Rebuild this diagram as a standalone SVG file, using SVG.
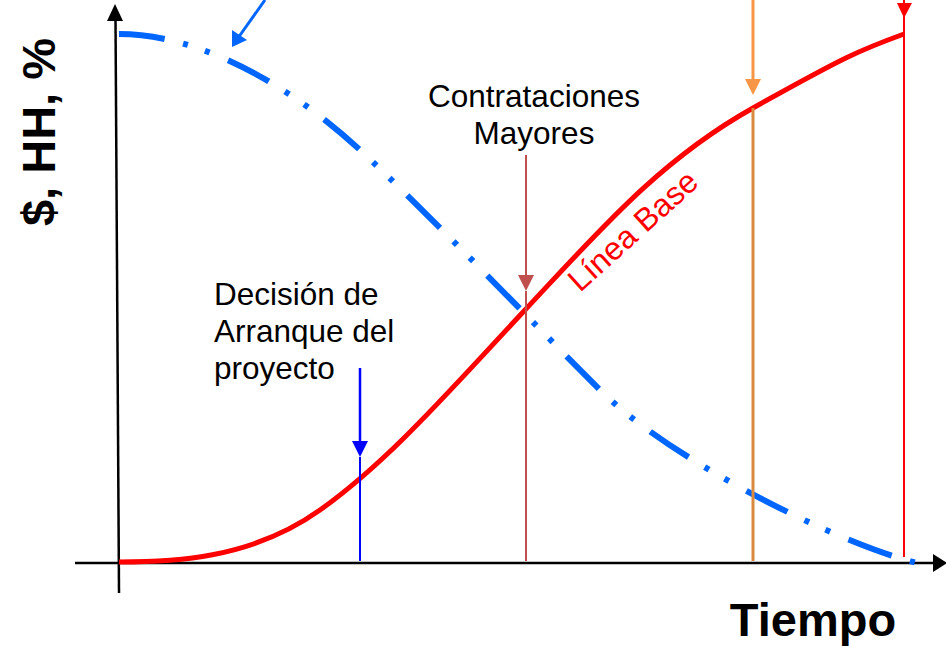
<svg xmlns="http://www.w3.org/2000/svg" width="946" height="646" viewBox="0 0 946 646">
<style>
.lbl{font-family:"Liberation Sans",Arial,sans-serif;font-size:31.5px;fill:#000}
.big{font-family:"Liberation Sans",Arial,sans-serif;font-size:47px;font-weight:bold;fill:#000}
.axis{stroke:#000;stroke-width:2.5;fill:none}
</style>
<rect width="946" height="646" fill="#fff"/>
<g id="axes">
<line class="axis" x1="119" y1="593" x2="115.5" y2="18"/>
<path d="M107,21 L115,4 L123,21 Z" fill="#000"/>
<line class="axis" x1="75" y1="563" x2="936" y2="563"/>
<path d="M933,554 L947,563 L933,572 Z" fill="#000"/>
</g>
<g id="curves">
<path id="plan" d="M119,34 C200,34 290,85 360,150 S530,320 600,390 S840,545 921,564" fill="none" stroke="#0066FF" stroke-width="6" stroke-dasharray="46 19 5 18 5 20"/>
<path id="linea-base" d="M119,562 C170,562 250,560 320,510 S450,390 525,310 S660,160 753,108 S860,50 904,34" fill="none" stroke="#FF0000" stroke-width="5"/>
</g>
<g id="connectors">
<line x1="265" y1="0" x2="238" y2="38" stroke="#0066FF" stroke-width="3"/>
<path d="M232,47 L232,30 L247,40 Z" fill="#0066FF"/>
<line x1="753" y1="0" x2="753" y2="80" stroke="#F79646" stroke-width="3"/>
<path d="M745,79 L761,79 L753,95 Z" fill="#F79646"/>
<line x1="753" y1="108" x2="753" y2="561" stroke="#D98A3F" stroke-width="3"/>
<line x1="904" y1="0" x2="904" y2="557" stroke="#FF0000" stroke-width="2"/>
<path d="M897,3 L912,3 L904,18 Z" fill="#FF0000"/>
<line x1="526" y1="155" x2="526" y2="277" stroke="#C0504D" stroke-width="2"/>
<path d="M518,275 L534,275 L526,291 Z" fill="#C0504D"/>
<line x1="526" y1="291" x2="526" y2="561" stroke="#C0504D" stroke-width="2"/>
<line x1="360" y1="368" x2="360" y2="443" stroke="#0000FF" stroke-width="2.5"/>
<path d="M352,441 L368,441 L360,457 Z" fill="#0000FF"/>
<line x1="360" y1="457" x2="360" y2="561" stroke="#0000FF" stroke-width="2"/>
</g>
<g id="label-y"><text class="big" transform="translate(55,132) rotate(-90)" text-anchor="middle">$, HH, %</text></g>
<g id="label-x"><text class="big" x="813" y="636" text-anchor="middle">Tiempo</text></g>
<g id="label-contrataciones"><text class="lbl" x="534" y="107" text-anchor="middle">Contrataciones</text><text class="lbl" x="534" y="144" text-anchor="middle">Mayores</text></g>
<g id="label-decision"><text class="lbl" x="214" y="305">Decisión de</text><text class="lbl" x="214" y="342">Arranque del</text><text class="lbl" x="214" y="379">proyecto</text></g>
<g id="label-linea-base"><text transform="translate(580,293) rotate(-42)" style="font-family:'Liberation Sans',Arial,sans-serif;font-size:32px;fill:#FF0000">Línea Base</text></g>
</svg>
